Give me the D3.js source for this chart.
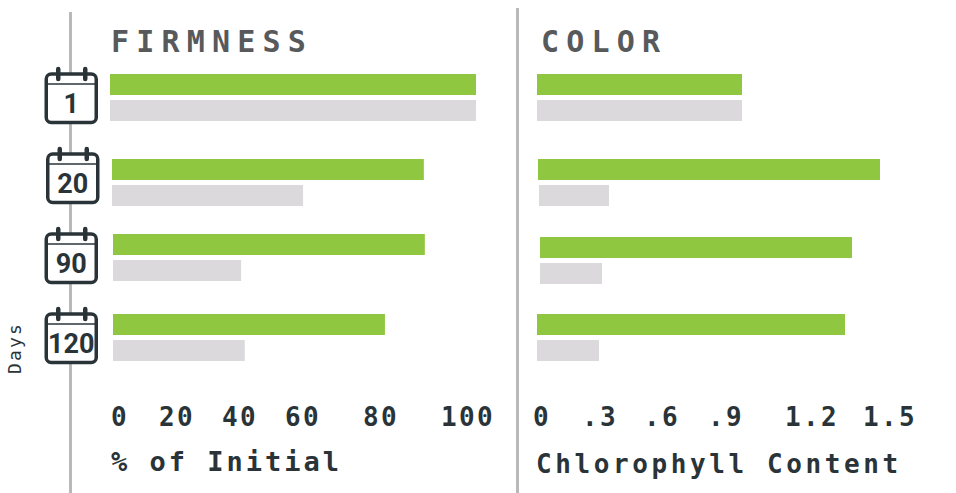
<!DOCTYPE html>
<html>
<head>
<meta charset="utf-8">
<style>
  body { margin: 0; background: #fff; }
  svg { display: block; }
  .mono { font-family: "DejaVu Sans Mono", monospace; font-weight: bold; fill: #2a3438; }
  .title { font-size: 30px; letter-spacing: 7.2px; fill: #58595b; }
  .tick { font-size: 26px; letter-spacing: 2.3px; text-anchor: middle; }
  .days { font-family: "DejaVu Sans Mono", monospace; font-size: 18px; letter-spacing: 2.2px; fill: #2a3438; }
  .icon-label { font-family: Roboto, sans-serif; font-weight: 700; fill: #2a3438; text-anchor: middle; }
</style>
</head>
<body>
<div id="chart"></div>
<script src="https://d3js.org/d3.v7.min.js"></script>
<script>
  // Data
  const days = ['1', '20', '90', '120'];
  const firmnessFresh = [100, 85.2, 85.2, 74.3];
  const firmnessStored = [100, 52.2, 35, 36];
  const colorFresh = [0.82, 1.368, 1.248, 1.232];
  const colorStored = [0.82, 0.28, 0.248, 0.248];
  const firmnessTicks = ['0', '20', '40', '60', '80', '100'];
  const colorTicks = ['0', '.3', '.6', '.9', '1.2', '1.5'];

  const width = 956;
  const height = 493;
  const green = '#8fc741';
  const gray = '#dbd9dc';
  const dark = '#2a3438';

  const svg = d3.select('#chart')
    .append('svg')
    .attr('width', width)
    .attr('height', height);

  // the rows were placed by hand in the original, so each has its own offset
  const firmnessY = d3.scaleOrdinal().domain(days).range([74, 159, 234, 314]);
  const colorY = d3.scaleOrdinal().domain(days).range([74, 159, 237, 314]);
  const firmnessLeft = d3.scaleOrdinal().domain(days).range([110, 112, 113, 113]);
  const colorLeft = d3.scaleOrdinal().domain(days).range([537, 538, 540, 537]);
  const colorStoredLeft = d3.scaleOrdinal().domain(days).range([537, 539, 540, 537]);
  const iconX = d3.scaleOrdinal().domain(days).range([71.25, 72.75, 71.25, 71.25]);
  const iconY = d3.scaleOrdinal().domain(days).range([72, 152, 232, 312]);

  const firmnessWidth = d3.scaleLinear().domain([0, 100]).range([0, 366]);
  const colorWidth = d3.scaleLinear().domain([0, 1.5]).range([0, 375]);

  // tick labels are not evenly spaced in the original either
  const firmnessTickX = d3.scaleOrdinal().domain(firmnessTicks).range([120, 177, 240, 303, 381, 468]);
  const colorTickX = d3.scaleOrdinal().domain(colorTicks).range([542, 600, 662, 726, 812, 890]);

  // Divider lines
  svg.append('line')
    .attr('x1', 70.5).attr('x2', 70.5).attr('y1', 12).attr('y2', height)
    .attr('stroke', '#bab8ba').attr('stroke-width', 3);
  svg.append('line')
    .attr('x1', 517.5).attr('x2', 517.5).attr('y1', 8).attr('y2', height)
    .attr('stroke', '#bab8ba').attr('stroke-width', 3);

  // Bars
  function drawBars(values, left, top, scale, offset, fill) {
    svg.append('g').selectAll('rect')
      .data(values)
      .enter()
      .append('rect')
      .attr('x', (d, i) => left(days[i]))
      .attr('y', (d, i) => top(days[i]) + offset)
      .attr('width', (d) => scale(d))
      .attr('height', 21)
      .attr('fill', fill);
  }
  drawBars(firmnessFresh, firmnessLeft, firmnessY, firmnessWidth, 0, green);
  drawBars(firmnessStored, firmnessLeft, firmnessY, firmnessWidth, 26, gray);
  drawBars(colorFresh, colorLeft, colorY, colorWidth, 0, green);
  drawBars(colorStored, colorStoredLeft, colorY, colorWidth, 26, gray);

  // Calendar icons
  const icons = svg.append('g').selectAll('g')
    .data(days)
    .enter()
    .append('g')
    .attr('transform', (d) => `translate(${iconX(d)}, ${iconY(d)})`);

  icons.append('rect')
    .attr('x', -25).attr('y', 2).attr('width', 50).attr('height', 48.5).attr('rx', 5)
    .attr('fill', '#fff').attr('stroke', dark).attr('stroke-width', 3.5);
  icons.append('line')
    .attr('x1', -25).attr('x2', 25).attr('y1', 12).attr('y2', 12)
    .attr('stroke', dark).attr('stroke-width', 1.5);
  [-13, 14].forEach((tx) => {
    icons.append('line')
      .attr('x1', tx).attr('x2', tx).attr('y1', -3).attr('y2', 7)
      .attr('stroke', dark).attr('stroke-width', 4.5).attr('stroke-linecap', 'round');
  });
  icons.append('text')
    .attr('class', 'icon-label')
    .attr('y', 40.5)
    .attr('font-size', 27)
    .text((d) => d);

  // Titles
  svg.append('text').attr('class', 'mono title').attr('x', 111).attr('y', 52).text('FIRMNESS');
  svg.append('text').attr('class', 'mono title').attr('x', 541).attr('y', 52).text('COLOR');

  // Tick labels
  function drawTicks(ticks, xPos) {
    svg.append('g').selectAll('text')
      .data(ticks)
      .enter()
      .append('text')
      .attr('class', 'mono tick')
      .attr('x', (d) => xPos(d))
      .attr('y', 426)
      .text((d) => d);
  }
  drawTicks(firmnessTicks, firmnessTickX);
  drawTicks(colorTicks, colorTickX);

  // Axis titles
  svg.append('text').attr('class', 'mono')
    .attr('x', 111).attr('y', 471)
    .attr('font-size', 27).attr('letter-spacing', 3)
    .text('% of Initial');
  svg.append('text').attr('class', 'mono')
    .attr('x', 536).attr('y', 473)
    .attr('font-size', 26).attr('letter-spacing', 3.6)
    .text('Chlorophyll Content');
  svg.append('text').attr('class', 'days')
    .attr('transform', 'translate(21, 374) rotate(-90)')
    .text('Days');
</script>
</body>
</html>
